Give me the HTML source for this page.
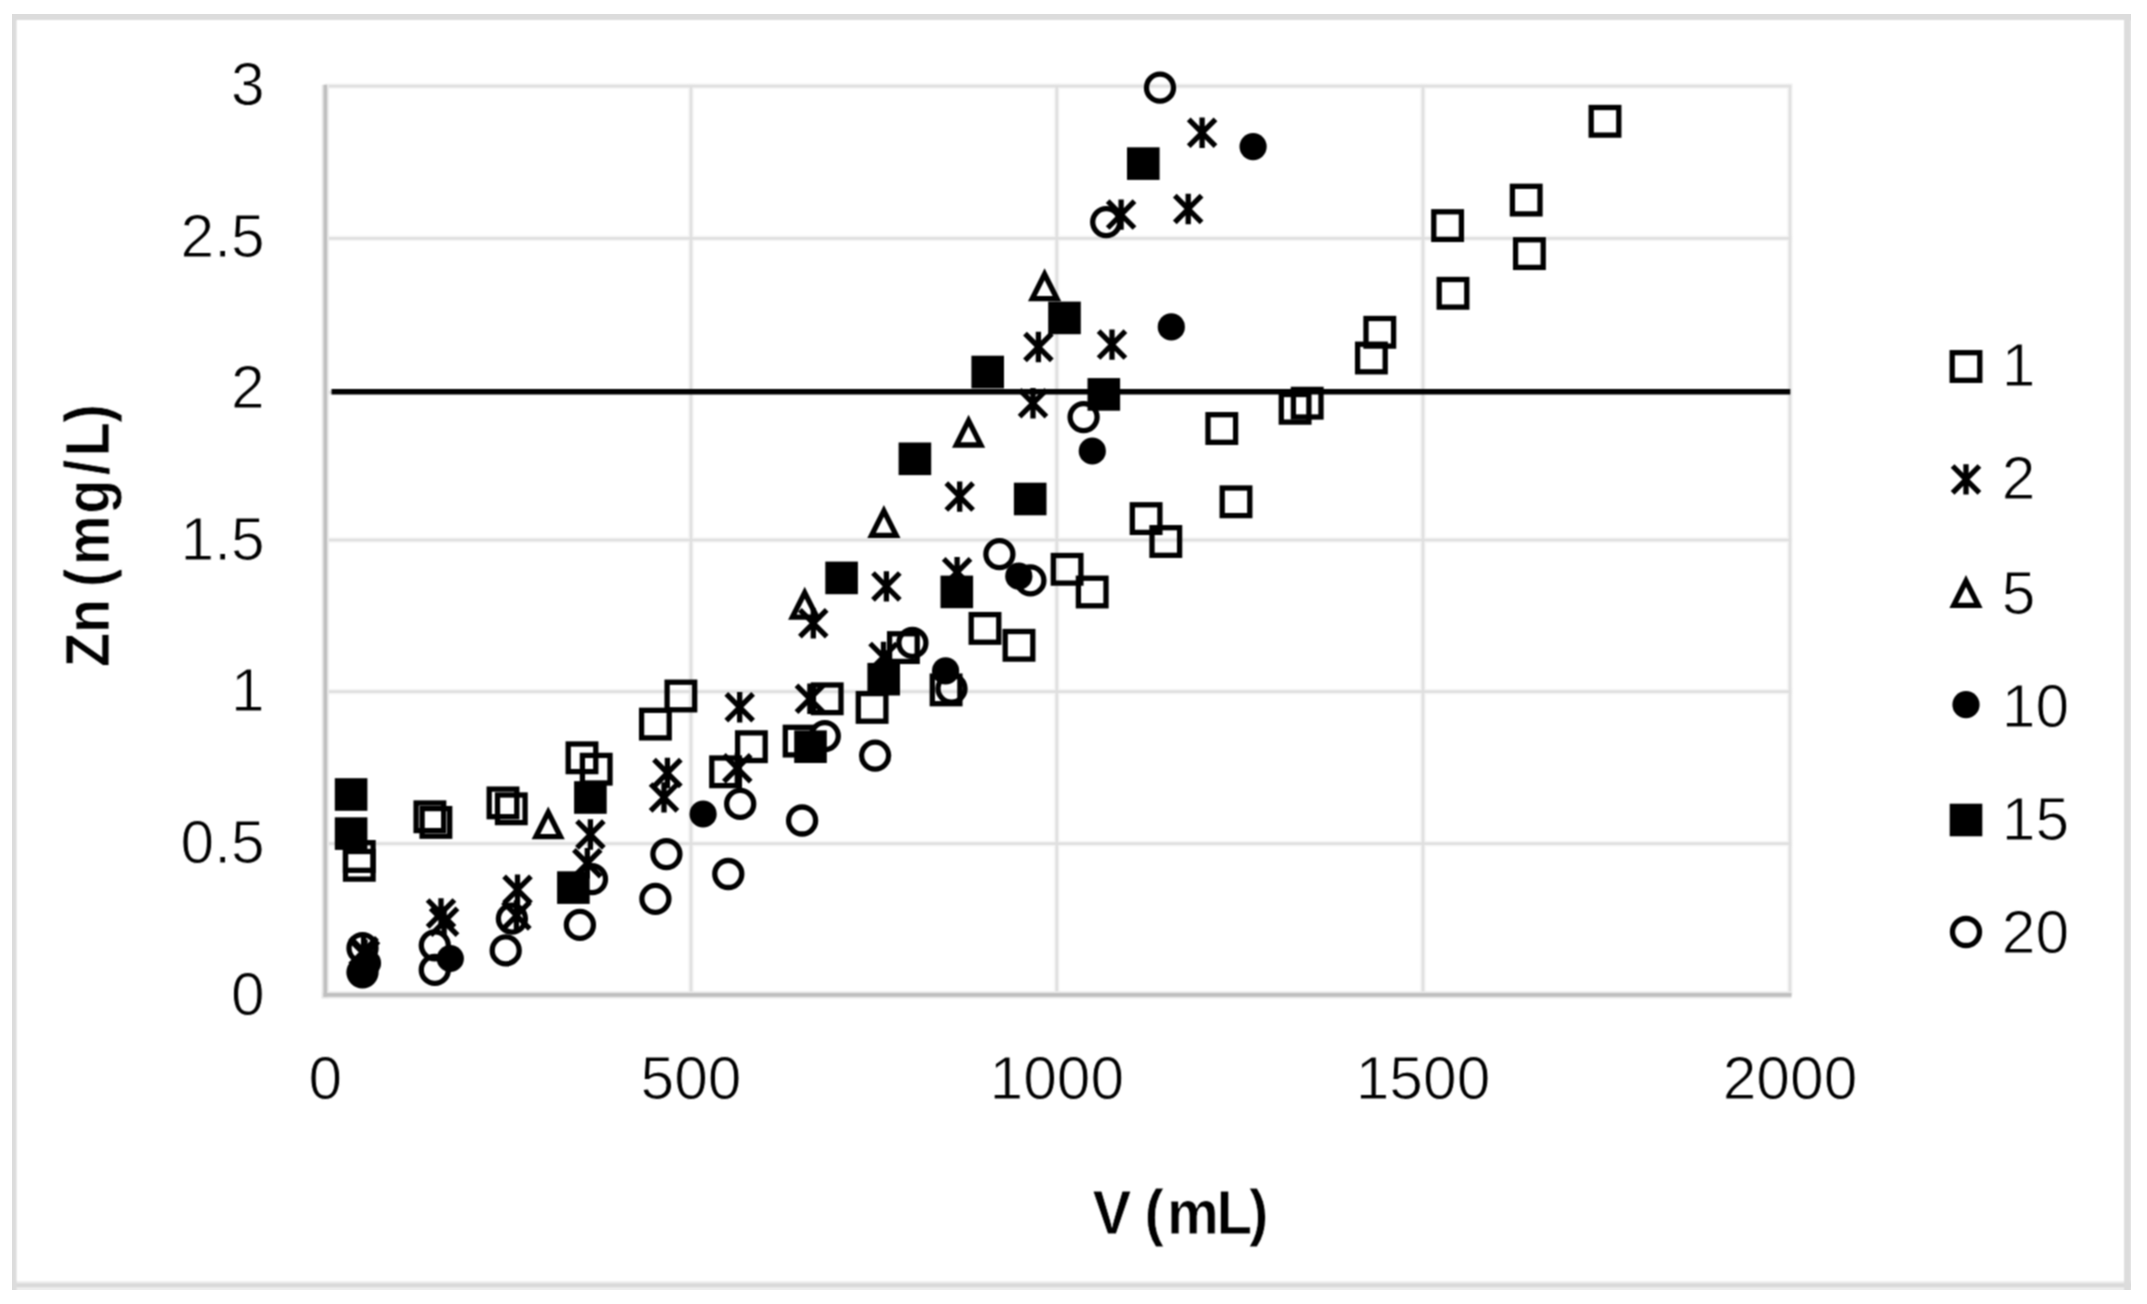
<!DOCTYPE html>
<html lang="en"><head><meta charset="utf-8"><title>Zn (mg/L) vs V (mL)</title>
<style>
html,body{margin:0;padding:0;background:#fff;}
body{width:2147px;height:1304px;overflow:hidden;font-family:"Liberation Sans",sans-serif;}
svg{display:block}
text{font-family:"Liberation Sans",sans-serif;fill:#000}
.tk{font-size:60.5px;stroke:#fff;stroke-width:1px}
.tt{font-size:63.3px;font-weight:bold;stroke:#fff;stroke-width:0.8px}
</style></head><body>
<svg width="2147" height="1304" viewBox="0 0 2147 1304">
<rect x="0" y="0" width="2147" height="1304" fill="#fff"/>
<defs><filter id="b" x="0" y="0" width="100%" height="100%" color-interpolation-filters="sRGB"><feConvolveMatrix order="3" kernelMatrix="1 2 1 2 4 2 1 2 1" divisor="16" edgeMode="duplicate"/></filter></defs>
<g filter="url(#b)">
<g fill="none">
<path d="M12.8 1285.6H2131" stroke="#eeeeee" stroke-width="9"/>
<path d="M12.8 1285.2H2131" stroke="#d9d9d9" stroke-width="4"/>
<path d="M14.7 14.9V1290" stroke="#dcdcdc" stroke-width="3.8"/>
<path d="M12.8 17.4H2131" stroke="#dcdcdc" stroke-width="5"/>
<path d="M2127.4 14.9V1290" stroke="#dcdcdc" stroke-width="6.6"/>
</g>

<g stroke="#f6f6f6" stroke-width="5.8" fill="none">
<path d="M325.3 843.7H1792.9"/>
<path d="M325.3 691.7H1792.9"/>
<path d="M325.3 540.0H1792.9"/>
<path d="M325.3 392.3H1792.9"/>
<path d="M325.3 238.4H1792.9"/>
<path d="M325.3 86.2H1792.9"/>
<path d="M691.0 83.3V994.9"/>
<path d="M1056.8 83.3V994.9"/>
<path d="M1423.0 83.3V994.9"/>
<path d="M1790.0 83.3V994.9"/>
</g>
<g stroke="#dfdfdf" stroke-width="2.7" fill="none">
<path d="M325.3 843.7H1791.3"/>
<path d="M325.3 691.7H1791.3"/>
<path d="M325.3 540.0H1791.3"/>
<path d="M325.3 392.3H1791.3"/>
<path d="M325.3 238.4H1791.3"/>
<path d="M325.3 86.2H1791.3"/>
<path d="M691.0 84.9V994.9"/>
<path d="M1056.8 84.9V994.9"/>
<path d="M1423.0 84.9V994.9"/>
<path d="M1790.0 84.9V994.9"/>
</g>
<g stroke="#e9e9e9" stroke-width="7.4" fill="none"><path d="M325.3 84.7V998.6"/><path d="M321.6 994.9H1791.5"/></g>
<g stroke="#bfbfbf" stroke-width="3.6" fill="none"><path d="M325.3 84.7V996.7"/><path d="M323.5 994.9H1791.5"/></g>
<path d="M331.5 391.7H1790.3" stroke="#000" stroke-width="5.4" fill="none"/>
<g fill="none" stroke="#000" stroke-width="5.3">
<g><rect x="345.5" y="842.7" width="27.6" height="27.6"/><rect x="345.5" y="851.5" width="27.6" height="27.6"/><rect x="416.1" y="803.0" width="27.6" height="27.6"/><rect x="422.1" y="808.6" width="27.6" height="27.6"/><rect x="489.2" y="789.1" width="27.6" height="27.6"/><rect x="497.5" y="795.0" width="27.6" height="27.6"/><rect x="568.2" y="744.0" width="27.6" height="27.6"/><rect x="582.4" y="755.4" width="27.6" height="27.6"/><rect x="641.6" y="710.3" width="27.6" height="27.6"/><rect x="667.1" y="682.2" width="27.6" height="27.6"/><rect x="711.8" y="758.0" width="27.6" height="27.6"/><rect x="737.6" y="732.9" width="27.6" height="27.6"/><rect x="785.3" y="727.3" width="27.6" height="27.6"/><rect x="813.4" y="685.0" width="27.6" height="27.6"/><rect x="858.3" y="693.6" width="27.6" height="27.6"/><rect x="889.6" y="633.8" width="27.6" height="27.6"/><rect x="932.3" y="676.1" width="27.6" height="27.6"/><rect x="971.2" y="614.6" width="27.6" height="27.6"/><rect x="1005.2" y="631.5" width="27.6" height="27.6"/><rect x="1053.3" y="555.5" width="27.6" height="27.6"/><rect x="1078.4" y="578.2" width="27.6" height="27.6"/><rect x="1132.3" y="504.8" width="27.6" height="27.6"/><rect x="1152.0" y="527.7" width="27.6" height="27.6"/><rect x="1208.0" y="414.7" width="27.6" height="27.6"/><rect x="1222.2" y="488.0" width="27.6" height="27.6"/><rect x="1281.3" y="394.5" width="27.6" height="27.6"/><rect x="1293.4" y="389.4" width="27.6" height="27.6"/><rect x="1357.6" y="344.2" width="27.6" height="27.6"/><rect x="1366.0" y="318.5" width="27.6" height="27.6"/><rect x="1433.8" y="211.8" width="27.6" height="27.6"/><rect x="1439.2" y="279.5" width="27.6" height="27.6"/><rect x="1512.4" y="186.3" width="27.6" height="27.6"/><rect x="1515.6" y="239.8" width="27.6" height="27.6"/><rect x="1591.2" y="107.5" width="27.6" height="27.6"/></g>
<g><path d="M350.2 937.8L377.0 964.6M377.0 937.8L350.2 964.6M363.6 936.0V966.4"/><path d="M351.6 941.4L378.4 968.2M378.4 941.4L351.6 968.2M365.0 939.6V970.0"/><path d="M427.6 900.0L454.4 926.8M454.4 900.0L427.6 926.8M441.0 898.2V928.6"/><path d="M430.7 908.3L457.5 935.1M457.5 908.3L430.7 935.1M444.1 906.5V936.9"/><path d="M504.1 876.4L530.9 903.2M530.9 876.4L504.1 903.2M517.5 874.6V905.0"/><path d="M503.0 902.1L529.8 928.9M529.8 902.1L503.0 928.9M516.4 900.3V930.7"/><path d="M577.0 821.1L603.8 847.9M603.8 821.1L577.0 847.9M590.4 819.3V849.7"/><path d="M573.9 849.8L600.7 876.6M600.7 849.8L573.9 876.6M587.3 848.0V878.4"/><path d="M654.0 759.6L680.8 786.4M680.8 759.6L654.0 786.4M667.4 757.8V788.2"/><path d="M650.6 784.0L677.4 810.8M677.4 784.0L650.6 810.8M664.0 782.2V812.6"/><path d="M726.3 693.8L753.1 720.6M753.1 693.8L726.3 720.6M739.7 692.0V722.4"/><path d="M723.9 754.8L750.7 781.6M750.7 754.8L723.9 781.6M737.3 753.0V783.4"/><path d="M796.5 685.4L823.3 712.2M823.3 685.4L796.5 712.2M809.9 683.6V714.0"/><path d="M799.9 609.9L826.7 636.7M826.7 609.9L799.9 636.7M813.3 608.1V638.5"/><path d="M873.0 573.0L899.8 599.8M899.8 573.0L873.0 599.8M886.4 571.2V601.6"/><path d="M870.1 643.5L896.9 670.3M896.9 643.5L870.1 670.3M883.5 641.7V672.1"/><path d="M943.7 558.9L970.5 585.7M970.5 558.9L943.7 585.7M957.1 557.1V587.5"/><path d="M946.3 483.2L973.1 510.0M973.1 483.2L946.3 510.0M959.7 481.4V511.8"/><path d="M1019.6 389.9L1046.4 416.7M1046.4 389.9L1019.6 416.7M1033.0 388.1V418.5"/><path d="M1025.0 333.6L1051.8 360.4M1051.8 333.6L1025.0 360.4M1038.4 331.8V362.2"/><path d="M1098.6 331.2L1125.4 358.0M1125.4 331.2L1098.6 358.0M1112.0 329.4V359.8"/><path d="M1107.7 201.2L1134.5 228.0M1134.5 201.2L1107.7 228.0M1121.1 199.4V229.8"/><path d="M1174.8 195.6L1201.6 222.4M1201.6 195.6L1174.8 222.4M1188.2 193.8V224.2"/><path d="M1188.7 119.4L1215.5 146.2M1215.5 119.4L1188.7 146.2M1202.1 117.6V148.0"/></g>
<g stroke-linejoin="miter" stroke-miterlimit="10"><path d="M548.2 812.3L560.5 836.7H535.9Z"/><path d="M804.7 592.7L817.0 617.1H792.4Z"/><path d="M883.9 510.9L896.2 535.3H871.6Z"/><path d="M968.6 420.6L980.9 445.0H956.3Z"/><path d="M1044.6 274.2L1056.9 298.6H1032.3Z"/></g>
</g>
<g fill="#000" stroke="none"><circle cx="362.5" cy="972.3" r="13.6"/><circle cx="367.5" cy="963.0" r="13.6"/><circle cx="450.3" cy="958.5" r="13.6"/><circle cx="703.1" cy="814.0" r="13.6"/><circle cx="945.6" cy="670.9" r="13.6"/><circle cx="1018.8" cy="576.2" r="13.6"/><circle cx="1092.3" cy="451.0" r="13.6"/><circle cx="1171.3" cy="326.9" r="13.6"/><circle cx="1253.1" cy="146.6" r="13.6"/></g>
<g fill="#000" stroke="none"><rect x="334.8" y="778.2" width="32.6" height="32.6"/><rect x="334.8" y="817.3" width="32.6" height="32.6"/><rect x="557.1" y="871.3" width="32.6" height="32.6"/><rect x="574.1" y="781.2" width="32.6" height="32.6"/><rect x="794.2" y="730.4" width="32.6" height="32.6"/><rect x="825.3" y="561.6" width="32.6" height="32.6"/><rect x="867.4" y="662.9" width="32.6" height="32.6"/><rect x="898.6" y="442.5" width="32.6" height="32.6"/><rect x="940.5" y="575.6" width="32.6" height="32.6"/><rect x="971.4" y="355.7" width="32.6" height="32.6"/><rect x="1013.9" y="482.7" width="32.6" height="32.6"/><rect x="1048.2" y="301.6" width="32.6" height="32.6"/><rect x="1087.5" y="378.1" width="32.6" height="32.6"/><rect x="1127.0" y="147.3" width="32.6" height="32.6"/></g>
<g fill="none" stroke="#000" stroke-width="5.3"><circle cx="362.5" cy="948.2" r="13.5"/><circle cx="362.5" cy="972.3" r="13.5"/><circle cx="434.8" cy="945.3" r="13.5"/><circle cx="434.8" cy="969.9" r="13.5"/><circle cx="505.7" cy="950.4" r="13.5"/><circle cx="511.9" cy="918.6" r="13.5"/><circle cx="579.9" cy="924.9" r="13.5"/><circle cx="592.0" cy="879.2" r="13.5"/><circle cx="655.4" cy="898.8" r="13.5"/><circle cx="666.4" cy="854.1" r="13.5"/><circle cx="728.3" cy="874.0" r="13.5"/><circle cx="740.2" cy="803.9" r="13.5"/><circle cx="802.1" cy="820.5" r="13.5"/><circle cx="824.8" cy="736.1" r="13.5"/><circle cx="875.1" cy="755.6" r="13.5"/><circle cx="912.4" cy="642.9" r="13.5"/><circle cx="951.5" cy="688.6" r="13.5"/><circle cx="999.4" cy="554.2" r="13.5"/><circle cx="1030.4" cy="580.4" r="13.5"/><circle cx="1083.6" cy="417.1" r="13.5"/><circle cx="1106.2" cy="222.1" r="13.5"/><circle cx="1160.0" cy="87.7" r="13.5"/></g>
<g class="tk" text-anchor="end">
<text x="264.6" y="1014.5">0</text>
<text x="264.6" y="862.9">0.5</text>
<text x="264.6" y="711.3">1</text>
<text x="264.6" y="559.7">1.5</text>
<text x="264.6" y="408.1">2</text>
<text x="264.6" y="256.5">2.5</text>
<text x="264.6" y="104.9">3</text>
</g>
<g class="tk" text-anchor="middle">
<text x="325.3" y="1099.4">0</text>
<text x="691.0" y="1099.4">500</text>
<text x="1056.8" y="1099.4">1000</text>
<text x="1423.0" y="1099.4">1500</text>
<text x="1790.0" y="1099.4">2000</text>
</g>
<text class="tt" transform="translate(1092.6 1233.8) scale(0.92 1)" x="-0.2 19.8 56.3 80.8 134.8 169.9" y="0">V (mL)</text>
<text class="tt" transform="translate(109.2 663.7) rotate(-90) scale(0.88 1)" x="-3.7 34.8 54.8 87.3 112.3 170.5 214.2 235.8 273.7" y="0">Zn (mg/L)</text>
<g fill="none" stroke="#000" stroke-width="5.3"><rect x="1952.2" y="352.7" width="27.6" height="27.6"/><path d="M1952.6 466.0L1979.4 492.8M1979.4 466.0L1952.6 492.8M1966.0 464.2V494.6"/><g stroke-miterlimit="10"><path d="M1966.0 581.0L1978.3 605.4H1953.7Z"/></g><circle cx="1966.0" cy="932.0" r="13.5"/></g>
<g fill="#000"><circle cx="1966.0" cy="704.7" r="13.6"/><rect x="1949.7" y="803.7" width="32.6" height="32.6"/></g>
<g class="tk">
<text x="2001.8" y="386.4">1</text>
<text x="2001.8" y="499.1">2</text>
<text x="2001.8" y="613.7">5</text>
<text x="2001.8" y="727.0">10</text>
<text x="2001.8" y="840.2">15</text>
<text x="2001.8" y="952.5">20</text>
</g>
</g></svg></body></html>
